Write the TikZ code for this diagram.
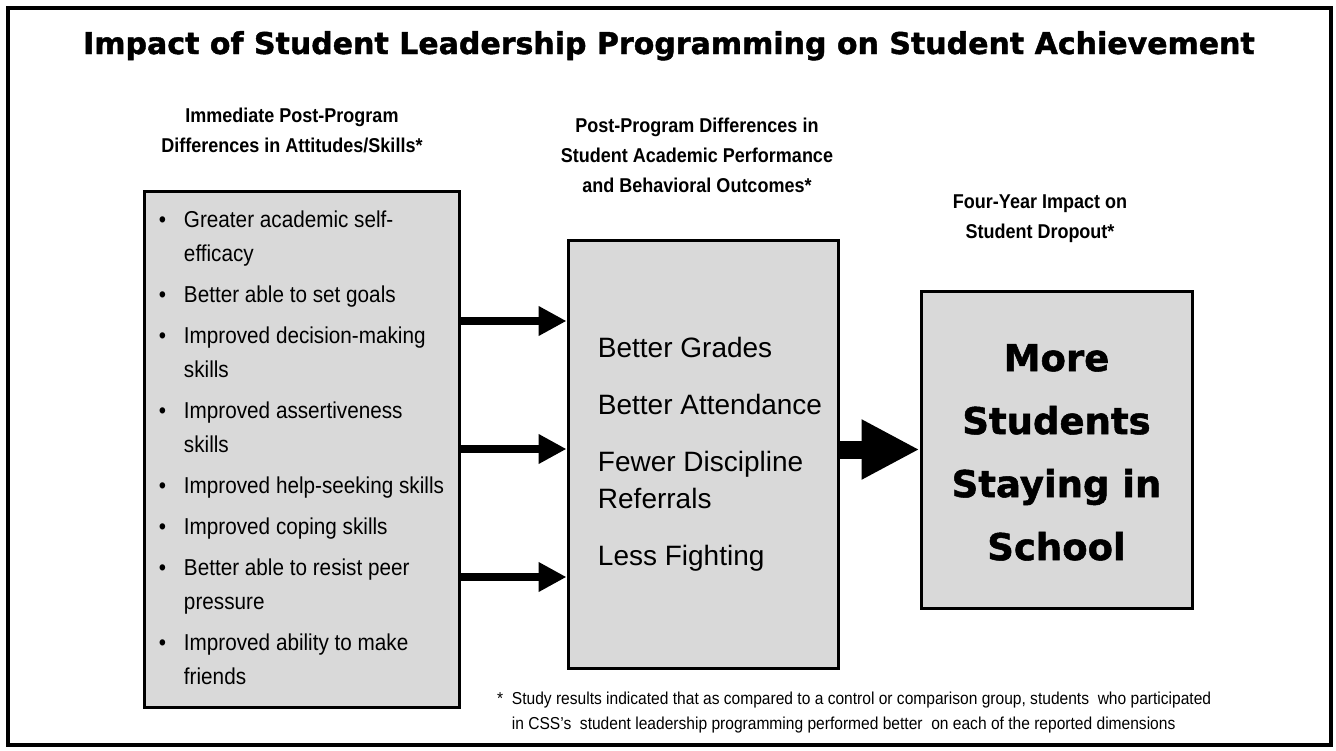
\documentclass[tikz,border=0pt]{standalone}
\usepackage{fontspec}
\setmainfont{Liberation Sans}
\newfontfamily\narrowfont{Liberation Sans}[FakeStretch=0.9]
\newfontfamily\heavyfont{DejaVu Sans Bold}[FakeBold=1.4]
\usetikzlibrary{arrows.meta}

\newcommand{\skillbullet}{\makebox[25pt][l]{\textbullet}}

\begin{document}
\begin{tikzpicture}[x=1pt,y=-1pt,
  panel/.style={draw,line width=3pt,fill=boxgray,inner sep=0pt},
  heading/.style={font=\narrowfont\bfseries\fontsize{20}{30}\selectfont,align=center},
  thinarrow/.style={line width=8pt,-{Triangle[length=28pt,width=28pt]}},
  bigarrow/.style={line width=18pt,-{Triangle[length=58pt,width=56pt]}}]
\definecolor{boxgray}{HTML}{D9D9D9}
\useasboundingbox (0,0) rectangle (1336,750);
\draw[line width=4pt] (8,8) rectangle (1331,745);

\node[anchor=base,font=\heavyfont\fontsize{30}{36}\selectfont] (title) at (669,54)
  {Impact of Student Leadership Programming on Student Achievement};

% column headings
\node[heading] (hskills) at (292,130) {Immediate Post-Program\\Differences in Attitudes/Skills*};
\node[heading] (houtcomes) at (697,155) {Post-Program Differences in\\Student Academic Performance\\and Behavioral Outcomes*};
\node[heading] (hdropout) at (1040,219) {Four-Year Impact on\\Student Dropout*};

% the three boxes
\node[panel,minimum width=315pt,minimum height=516pt,font=\narrowfont\fontsize{23}{34}\selectfont] (skills) at (301.5,449) {%
  \begin{tabular}{@{}l@{}l@{}}
  \skillbullet & Greater academic self-\\
               & efficacy\\[7pt]
  \skillbullet & Better able to set goals\\[7pt]
  \skillbullet & Improved decision-making\\
               & skills\\[7pt]
  \skillbullet & Improved assertiveness\\
               & skills\\[7pt]
  \skillbullet & Improved help-seeking skills\\[7pt]
  \skillbullet & Improved coping skills\\[7pt]
  \skillbullet & Better able to resist peer\\
               & pressure\\[7pt]
  \skillbullet & Improved ability to make\\
               & friends
  \end{tabular}};
\node[panel,minimum width=270pt,minimum height=428pt,font=\fontsize{28}{37}\selectfont] (outcomes) at (703,454) {%
  \begin{tabular}{@{\hspace{14pt}}l@{}}
  Better Grades\\[20pt]
  Better Attendance\\[20pt]
  Fewer Discipline\\
  Referrals\\[20pt]
  Less Fighting
  \end{tabular}};
\node[panel,minimum width=271pt,minimum height=317pt,font=\heavyfont\fontsize{37}{63}\selectfont] (dropout) at (1056.5,449.5) {%
  \begin{tabular}{@{}c@{}}
  More\\
  Students\\
  Staying in\\
  School\\[-7pt]
  \end{tabular}};

% arrows
\foreach \dy in {128,0,-128}
  \draw[thinarrow] ([yshift=\dy pt]skills.east) -- ([yshift=\dy pt]skills.east -| outcomes.west);
\draw[bigarrow] (dropout.west -| outcomes.east) -- (dropout.west);

\node[anchor=north west,inner sep=0pt,align=left,font=\narrowfont\fontsize{17.3}{25}\selectfont] (note) at (497,692)
  {*\ \ Study results indicated that as compared to a control or comparison group, students\ \ who participated\\
   \phantom{*}\ \ in CSS’s\ \ student leadership programming performed better\ \ on each of the reported dimensions};
\end{tikzpicture}
\end{document}
